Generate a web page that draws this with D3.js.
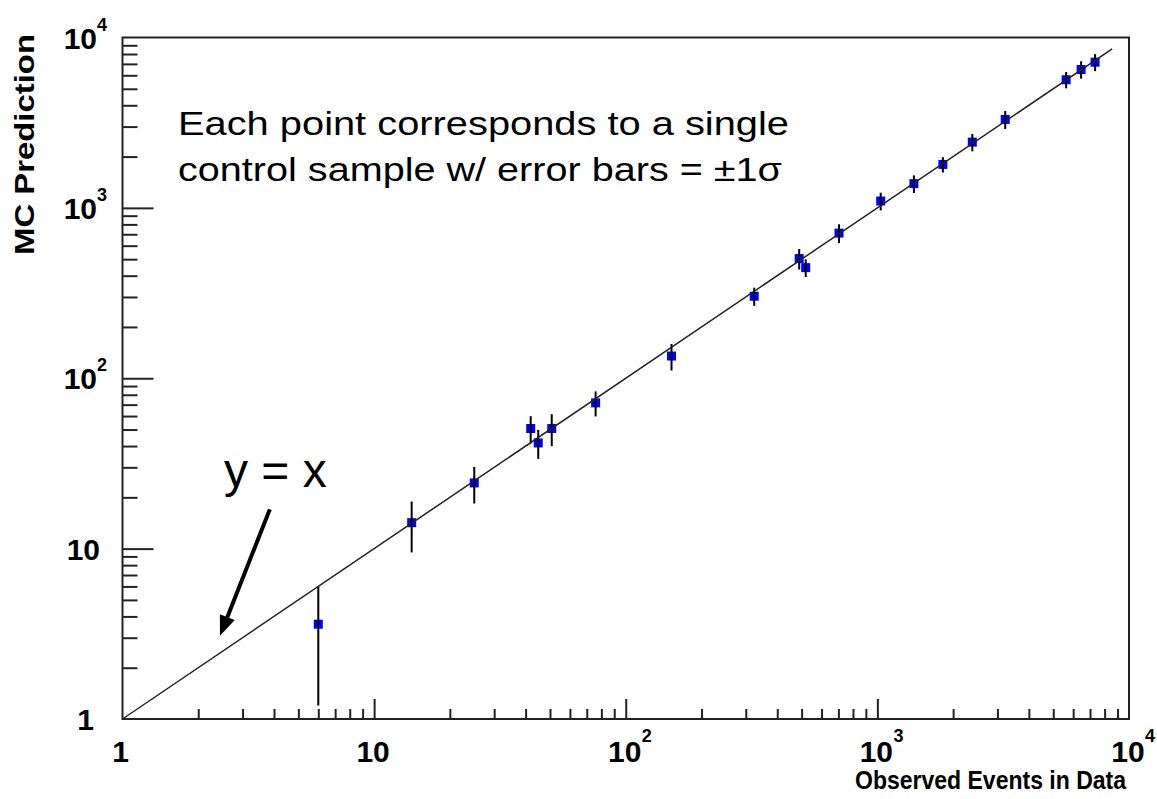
<!DOCTYPE html>
<html>
<head>
<meta charset="utf-8">
<script src="https://cdn.jsdelivr.net/npm/d3@7/dist/d3.min.js"></script>
<style>
  html, body { margin: 0; padding: 0; background: #fff; }
  svg { display: block; }
  text { font-family: "Liberation Sans", Arial, Helvetica, sans-serif; }
</style>
</head>
<body>
<svg id="chart" width="1157" height="799"></svg>
<script>
// Observed event counts in each control sample
const observed = [6, 14.1, 25, 41.9, 44.9, 50.8, 75.9, 152, 324, 489, 519, 704, 1031, 1397, 1821, 2384, 3222, 5625, 6452, 7332];
// Monte Carlo prediction for the same samples
const predicted = [3.6, 14.2, 24.3, 50.7, 41.7, 50.7, 71.7, 135, 303, 504, 446, 711, 1097, 1387, 1799, 2432, 3305, 5650, 6490, 7165];
// ±1σ uncertainty on the prediction
const predErr = [2.4, 4.7, 5.9, 9.2, 8.1, 10.8, 12, 24, 37, 70, 53, 90, 130, 165, 185, 285, 400, 620, 760, 820];

// y = x reference function range
const fnRange = [1, 8570];

// Axis decades and labels
const decades = [1, 10, 100, 1000, 10000];
const decadeLabels = [["1", ""], ["10", ""], ["10", "2"], ["10", "3"], ["10", "4"]];

const svg = d3.select("#chart");

const x = d3.scaleLog().domain([1, 1e4]).range([122.5, 1129]);
const y = d3.scaleLog().domain([1, 1e4]).range([719, 37.5]);

// minor ticks 2..9 in every decade
const minors = [];
decades.slice(0, -1).forEach(d => { for (let k = 2; k <= 9; k++) minors.push(d * k); });

const axisColor = "#222";

// x axis ticks (inside the frame)
const gx = svg.append("g").attr("transform", `translate(0,${y(1)})`);
gx.call(d3.axisTop(x).tickValues(minors).tickSize(10).tickFormat(""));
gx.call(g => g.append("g").call(d3.axisTop(x).tickValues(decades.slice(1, -1)).tickSize(20).tickFormat("")));
gx.selectAll(".domain").remove();
gx.selectAll("line").attr("stroke", axisColor).attr("stroke-width", 2);

// y axis ticks (inside the frame)
const gy = svg.append("g").attr("transform", `translate(${x(1)},0)`);
gy.call(d3.axisRight(y).tickValues(minors).tickSize(15).tickFormat(""));
gy.call(g => g.append("g").call(d3.axisRight(y).tickValues(decades.slice(1, -1)).tickSize(31).tickFormat("")));
gy.selectAll(".domain").remove();
gy.selectAll("line").attr("stroke", axisColor).attr("stroke-width", 2);

// frame
svg.append("rect")
  .attr("x", x(1)).attr("y", y(1e4))
  .attr("width", x(1e4) - x(1)).attr("height", y(1) - y(1e4))
  .attr("fill", "none").attr("stroke", axisColor).attr("stroke-width", 2);

// x tick labels
const xl = svg.append("g").attr("font-weight", "bold").attr("fill", "#000");
decades.forEach((d, i) => {
  const [base, exp] = decadeLabels[i];
  xl.append("text").attr("x", x(d) - (i === 0 ? 2 : 1)).attr("y", 762)
    .attr("font-size", 30).attr("text-anchor", "middle").text(base);
  if (exp) {
    xl.append("text").attr("x", x(d) + 16).attr("y", 742)
      .attr("font-size", 18).text(exp);
  }
});

// y tick labels
const yl = svg.append("g").attr("font-weight", "bold").attr("fill", "#000");
decades.forEach((d, i) => {
  const [base, exp] = decadeLabels[i];
  const endX = i === 0 ? 94 : (exp ? 97 : 100);
  yl.append("text").attr("x", endX).attr("y", y(d) + 11)
    .attr("font-size", 30).attr("text-anchor", "end").text(base);
  if (exp) {
    yl.append("text").attr("x", 97).attr("y", y(d) - 7)
      .attr("font-size", 18).text(exp);
  }
});

// axis titles
svg.append("text")
  .attr("x", 1126).attr("y", 789)
  .attr("text-anchor", "end").attr("font-weight", "bold").attr("font-size", 25)
  .attr("textLength", 271).attr("lengthAdjust", "spacingAndGlyphs")
  .text("Observed Events in Data");

svg.append("text")
  .attr("transform", "translate(34,34) rotate(-90)")
  .attr("text-anchor", "end").attr("font-weight", "bold").attr("font-size", 28)
  .attr("textLength", 221).attr("lengthAdjust", "spacingAndGlyphs")
  .text("MC Prediction");

// data points
const pts = observed.map((o, i) => ({ o, p: predicted[i], e: predErr[i] }));

const ms = 9;
svg.append("g").selectAll("rect").data(pts).join("rect")
  .attr("x", d => x(d.o) - ms / 2).attr("y", d => y(d.p) - ms / 2)
  .attr("width", ms).attr("height", ms)
  .attr("fill", "#0000ff");

svg.append("g").selectAll("line").data(pts).join("line")
  .attr("x1", d => x(d.o)).attr("x2", d => x(d.o))
  .attr("y1", d => y(d.p + d.e)).attr("y2", d => y(Math.max(d.p - d.e, 1)))
  .attr("stroke", "#000").attr("stroke-width", 2);

// y = x line
svg.append("path")
  .datum(fnRange.map(v => [v, v]))
  .attr("d", d3.line().x(d => x(d[0])).y(d => y(d[1])))
  .attr("fill", "none").attr("stroke", "#222").attr("stroke-width", 1.5);

// annotation text
const note = svg.append("g").attr("font-size", 34).attr("fill", "#000");
note.append("text").attr("x", 178).attr("y", 135)
  .attr("textLength", 611).attr("lengthAdjust", "spacingAndGlyphs")
  .text("Each point corresponds to a single");
note.append("text").attr("x", 178).attr("y", 181)
  .attr("textLength", 604).attr("lengthAdjust", "spacingAndGlyphs")
  .text("control sample w/ error bars = \u00b11\u03c3");

svg.append("text").attr("x", 224).attr("y", 487).attr("font-size", 48).text("y = x");

// arrow pointing at the line
const arrowFrom = [3.85, 17];
const arrowTo = [2.44, 3.08];
const ax0 = x(arrowFrom[0]), ay0 = y(arrowFrom[1]);
const ax1 = x(arrowTo[0]), ay1 = y(arrowTo[1]);
const ang = Math.atan2(ay1 - ay0, ax1 - ax0);
const headLen = 20, headW = 8;
const bx = ax1 - headLen * Math.cos(ang), by = ay1 - headLen * Math.sin(ang);
svg.append("line")
  .attr("x1", ax0).attr("y1", ay0).attr("x2", bx).attr("y2", by)
  .attr("stroke", "#000").attr("stroke-width", 4);
svg.append("polygon")
  .attr("points", [
    [ax1, ay1],
    [bx + headW * Math.sin(ang), by - headW * Math.cos(ang)],
    [bx - headW * Math.sin(ang), by + headW * Math.cos(ang)]
  ].map(p => p.join(",")).join(" "))
  .attr("fill", "#000");
</script>
</body>
</html>
